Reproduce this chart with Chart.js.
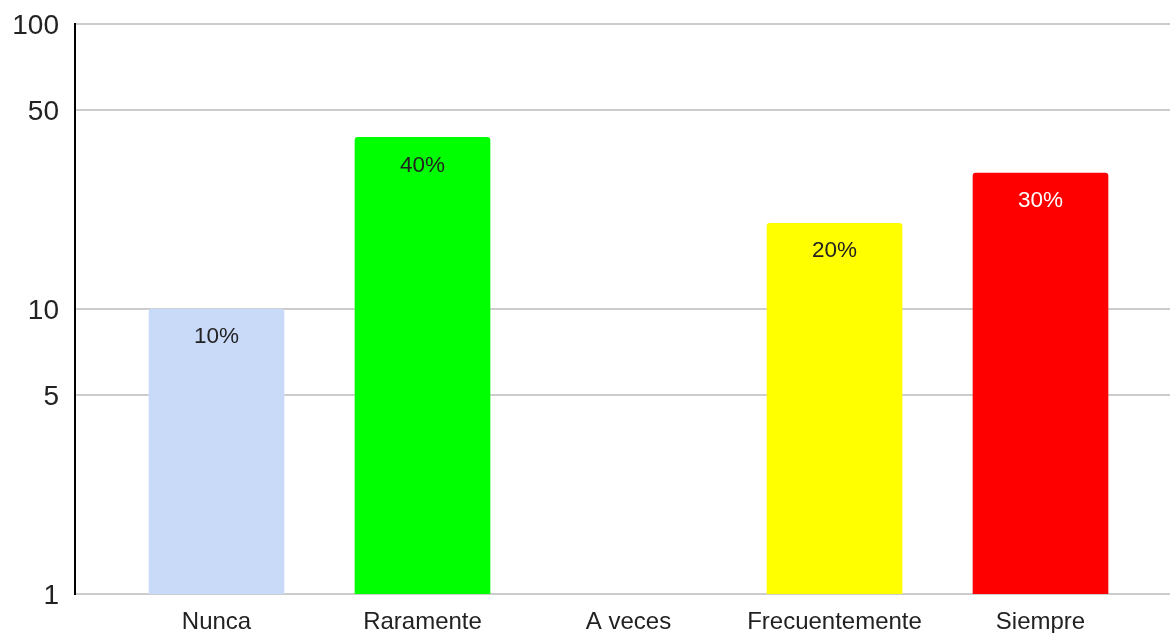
<!DOCTYPE html>
<html>
<head>
<meta charset="utf-8">
<script src="https://cdn.jsdelivr.net/npm/chart.js@4/dist/chart.umd.min.js"></script>
<style>
html,body{margin:0;padding:0;background:#fff;}
#wrap{width:1170px;height:633px;position:relative;}
</style>
</head>
<body>
<div id="wrap"><canvas id="c" width="1170" height="633"></canvas></div>
<script>
const categories = ["Nunca", "Raramente", "A veces", "Frecuentemente", "Siempre"];
const values = [10, 40, null, 20, 30];
const valueLabels = ["10%", "40%", "", "20%", "30%"];
const yTicks = [1, 5, 10, 50, 100];
const barColors = ["#c9daf8", "#00ff00", "#ffffff", "#ffff00", "#ff0000"];
const labelColors = ["#222222", "#222222", "#222222", "#222222", "#ffffff"];

const FONT = "'Liberation Sans', Arial, sans-serif";

const barLabelPlugin = {
  id: 'barLabels',
  afterDatasetsDraw(chart) {
    const ctx = chart.ctx;
    const meta = chart.getDatasetMeta(0);
    ctx.save();
    ctx.font = "22.5px " + FONT;
    ctx.textAlign = 'center';
    ctx.textBaseline = 'middle';
    meta.data.forEach((el, i) => {
      if (values[i] == null) return;
      ctx.fillStyle = labelColors[i];
      ctx.fillText(valueLabels[i], el.x, el.y + 28);
    });
    ctx.restore();
  }
};

new Chart(document.getElementById('c'), {
  type: 'bar',
  data: {
    datasets: [{
      data: values.map((v, i) => ({x: i, y: v})),
      backgroundColor: barColors,
      barThickness: 135,
      borderRadius: {topLeft: 3, topRight: 3, bottomLeft: 0, bottomRight: 0},
      borderSkipped: 'bottom'
    }]
  },
  options: {
    responsive: false,
    animation: false,
    layout: {padding: {top: 24, right: 0, left: 0, bottom: 0}},
    plugins: {legend: {display: false}, tooltip: {enabled: false}},
    scales: {
      x: {
        type: 'linear',
        offset: false,
        min: -0.6869,
        max: 4.6286,
        grid: {display: false, drawTicks: false, offset: false},
        border: {display: true, color: '#cccccc', width: 2},
        afterBuildTicks(scale) { scale.ticks = categories.map((c, i) => ({value: i})); },
        afterFit(scale) { scale.height = 39; scale.paddingLeft = 0; scale.paddingRight = 0; },
        ticks: {
          autoSkip: false,
          maxRotation: 0,
          padding: 14,
          color: '#222222',
          font: {family: FONT, size: 24},
          callback: (v) => categories[v] ?? ''
        }
      },
      y: {
        type: 'logarithmic',
        min: 1,
        max: 100,
        afterBuildTicks(scale) { scale.ticks = yTicks.map(v => ({value: v})); },
        afterFit(scale) { scale.width = 75; scale.paddingTop = 0; scale.paddingBottom = 0; },
        grid: {color: '#cccccc', lineWidth: 2, drawTicks: false},
        border: {display: true, color: '#000000', width: 2},
        ticks: {
          padding: 16,
          labelOffset: 2,
          color: '#222222',
          font: {family: FONT, size: 28},
          callback: (v) => String(v)
        }
      }
    }
  },
  plugins: [barLabelPlugin]
});
</script>
</body>
</html>
